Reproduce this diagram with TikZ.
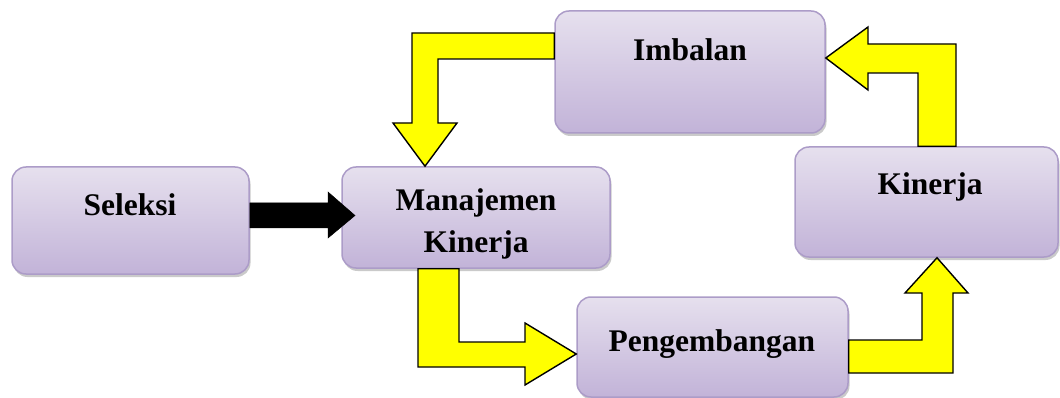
\documentclass[tikz,border=0pt]{standalone}
\usepackage{fontspec}
\setmainfont{Liberation Serif}
\usetikzlibrary{shadows,calc}
\definecolor{boxborder}{HTML}{AC9CC8}
\definecolor{boxlight}{HTML}{E6E0EE}
\definecolor{boxdark}{HTML}{C2B3D8}
\definecolor{arrowyellow}{HTML}{FFFF00}
\tikzset{
  panel/.style={rounded corners=14pt, draw=boxborder, line width=1.5pt,
    top color=boxlight, bottom color=boxdark, inner sep=0pt,
    drop shadow={shadow xshift=1.5pt, shadow yshift=-3pt, fill=black!35, opacity=0.6}},
  label/.style={font=\fontsize{31.5}{42}\selectfont\bfseries, align=center, inner sep=0pt},
  yarrow/.style={fill=arrowyellow, draw=black, line width=1.4pt, line join=miter},
  barrow/.style={fill=black, draw=black, line width=0.5pt}
}
\begin{document}
\begin{tikzpicture}[x=1pt,y=-1pt]
\useasboundingbox (0,0) rectangle (1060,398);
% boxes
\node[panel, minimum width=237pt, minimum height=107pt] (sel) at (130.5,220.5) {};
\node[panel, minimum width=268pt, minimum height=101pt] (man) at (476,217.5) {};
\node[panel, minimum width=270pt, minimum height=122pt] (imb) at (690,72) {};
\node[panel, minimum width=263pt, minimum height=110pt] (kin) at (926.5,202) {};
\node[panel, minimum width=271pt, minimum height=100pt] (peng) at (712.5,347) {};
% texts
\node[label] (selt) at (130,205) {Seleksi};
\node[label] (mant) at (476,224) {Manajemen\\Kinerja};
\node[label] (imbt) at (690,50) {Imbalan};
\node[label] (kint) at (930,187) {Kinerja};
\node[label] (pengt) at (712,344) {Pengembangan};
% black arrow Seleksi -> Manajemen
\draw[barrow] (sel.east |- 0,203) -- (328,203) -- (328,192) -- (355,215.5) -- (328,238) -- (328,228) -- (sel.east |- 0,228) -- cycle;
% Imbalan -> Manajemen
\draw[yarrow] (imb.west |- 0,33) -- (412,33) -- (412,123) -- (393,123) -- (425,0 |- man.north) -- (457,123) -- (438,123) -- (438,59) -- (imb.west |- 0,59) -- cycle;
% Manajemen -> Pengembangan
\draw[yarrow] (418,0 |- man.south) -- (459,0 |- man.south) -- (459,342) -- (525,342) -- (525,323) -- (peng.west |- 0,354) -- (525,385) -- (525,367) -- (418,367) -- cycle;
% Pengembangan -> Kinerja
\draw[yarrow] (peng.east |- 0,340) -- (922,340) -- (922,293) -- (905,293) -- (937,0 |- kin.south) -- (968,293) -- (953,293) -- (953,373) -- (peng.east |- 0,373) -- cycle;
% Kinerja -> Imbalan
\draw[yarrow] (918,0 |- kin.north) -- (918,73) -- (868,73) -- (868,90) -- (imb.east |- 0,58) -- (868,27) -- (868,44) -- (956,44) -- (956,0 |- kin.north) -- cycle;
\end{tikzpicture}
\end{document}
